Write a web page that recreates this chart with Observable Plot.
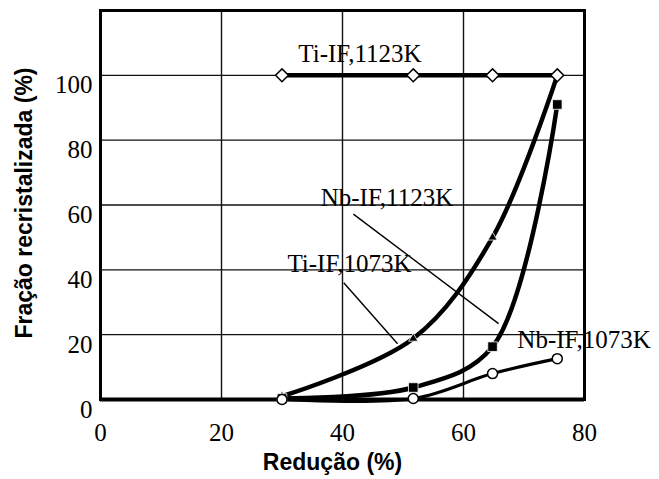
<!DOCTYPE html>
<html>
<head>
<meta charset="utf-8">
<script src="https://cdn.jsdelivr.net/npm/d3@7"></script>
<script src="https://cdn.jsdelivr.net/npm/@observablehq/plot@0.6"></script>
<style>
  html, body { margin: 0; padding: 0; background: #fff; }
</style>
</head>
<body>
<div id="chart"></div>
<script>
// ---- data ----
const reduction = [30, 51.7, 64.8, 75.5];            // Redução (%)
const tiIF1123 = [100, 100, 100, 100];               // Ti-IF,1123K (open diamonds)
const tiIF1073 = [1, 18.8, 50, 100];                 // Ti-IF,1073K (filled triangles)
const nbIF1123 = [0.3, 3.7, 16.3, 91];               // Nb-IF,1123K (filled squares)
const nbIF1073 = [0, 0.3, 8, 12.6];                  // Nb-IF,1073K (open circles)
const xTicks = [0, 20, 40, 60, 80];
const yTicks = [0, 20, 40, 60, 80, 100];
const xTitle = "Redução (%)";
const yTitle = "Fração recristalizada (%)";

// annotation labels (data units)
const labelNames = ["Ti-IF,1123K", "Nb-IF,1123K", "Ti-IF,1073K", "Nb-IF,1073K"];
const labelX = [32.7, 36.4, 30.9, 68.9];
const labelY = [106.6, 62.3, 41.7, 18.5];
// leader lines (data units)
const leaderX1 = [41.8, 40.2];
const leaderY1 = [57.2, 36.0];
const leaderX2 = [65.8, 49.1];
const leaderY2 = [23.4, 17.2];

const mk = (ys) => reduction.map((x, i) => ({x, y: ys[i]}));
const sTi1123 = mk(tiIF1123), sTi1073 = mk(tiIF1073), sNb1123 = mk(nbIF1123), sNb1073 = mk(nbIF1073);
const labels = labelNames.map((t, i) => ({t, x: labelX[i], y: labelY[i]}));
const leaders = leaderX1.map((_, i) => ({x1: leaderX1[i], y1: leaderY1[i], x2: leaderX2[i], y2: leaderY2[i]}));

const serif = "Liberation Serif, Times New Roman, serif";
const sans = "Liberation Sans, Arial, sans-serif";

const chart = Plot.plot({
  width: 659,
  height: 479,
  marginLeft: 100,
  marginRight: 75,
  marginTop: 10,
  marginBottom: 80,
  style: {fontFamily: serif, fontSize: "25px", color: "#000", background: "#fff"},
  x: {domain: [0, 80]},
  y: {domain: [0, 120]},
  marks: [
    Plot.gridX(xTicks.filter(d => d > 0 && d < 80), {stroke: "#111", strokeOpacity: 1, strokeWidth: 1.4}),
    Plot.gridY(yTicks.filter(d => d > 0), {stroke: "#111", strokeOpacity: 1, strokeWidth: 1.4}),
    Plot.frame({stroke: "#000", strokeWidth: 3}),
    Plot.ruleY([0], {stroke: "#000", strokeWidth: 4}),
    Plot.axisX({ticks: xTicks, tickSize: 0, tickPadding: 24, fontSize: 25, fontFamily: serif, label: null}),
    Plot.axisY({ticks: yTicks, tickSize: 0, tickPadding: 8, dy: 10, fontSize: 25, fontFamily: serif, label: null}),
    // leader lines
    Plot.link(leaders, {x1: "x1", y1: "y1", x2: "x2", y2: "y2", stroke: "#000", strokeWidth: 1.4}),
    // series lines
    Plot.line(sNb1073, {x: "x", y: "y", curve: "catmull-rom", stroke: "#000", strokeWidth: 3.2}),
    Plot.line(sNb1123, {x: "x", y: "y", curve: "catmull-rom", stroke: "#000", strokeWidth: 4.5}),
    Plot.line(sTi1073, {x: "x", y: "y", curve: "catmull-rom", stroke: "#000", strokeWidth: 4.5}),
    Plot.line(sTi1123, {x: "x", y: "y", stroke: "#000", strokeWidth: 4.5}),
    // markers
    Plot.dot(sTi1073, {x: "x", y: "y", symbol: "triangle", r: 3.4, fill: "#000", stroke: "#fff", strokeWidth: 0.8}),
    Plot.dot(sNb1123, {x: "x", y: "y", symbol: "square", r: 5.4, fill: "#000", stroke: "#fff", strokeWidth: 0.8}),
    Plot.dot(sNb1073, {x: "x", y: "y", symbol: "circle", r: 5, fill: "#fff", stroke: "#000", strokeWidth: 1.5}),
    Plot.dot(sTi1123, {x: "x", y: "y", symbol: "diamond2", r: 5.8, fill: "#fff", stroke: "#000", strokeWidth: 1.5}),
    // annotation labels
    Plot.text(labels, {x: "x", y: "y", text: "t", textAnchor: "start", lineAnchor: "middle", fontSize: 25, fontFamily: serif, fill: "#000"}),
    // axis titles
    Plot.text([xTitle], {frameAnchor: "bottom", text: d => d, textAnchor: "middle", dx: -10, dy: 63, lineAnchor: "middle", fontFamily: sans, fontWeight: "bold", fontSize: 23, fill: "#000"}),
    Plot.text([yTitle], {frameAnchor: "left", text: d => d, textAnchor: "middle", dx: -76, dy: -2, rotate: -90, lineAnchor: "middle", fontFamily: sans, fontWeight: "bold", fontSize: 23, fill: "#000"})
  ]
});
document.getElementById("chart").appendChild(chart);
</script>
</body>
</html>
